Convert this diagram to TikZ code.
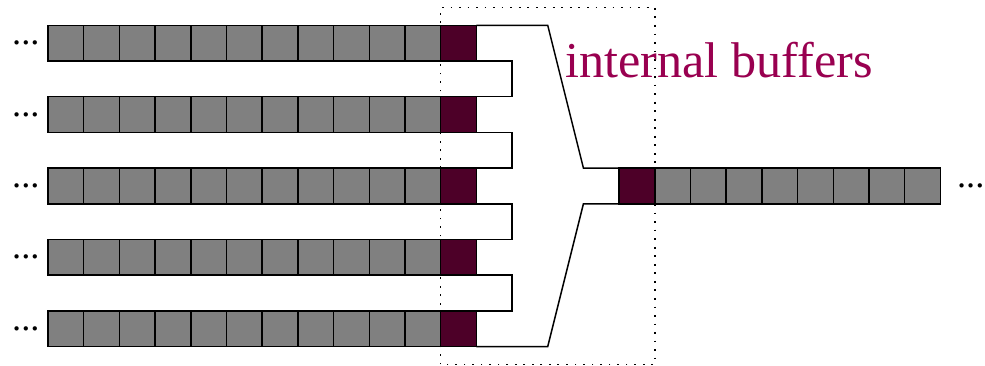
\documentclass[tikz,border=0pt]{standalone}
\usepackage{fontspec}
\setmainfont{Liberation Serif}
\usetikzlibrary{positioning}
\definecolor{bufmaroon}{RGB}{77,0,40}
\definecolor{labelred}{RGB}{153,0,80}

\begin{document}
\begin{tikzpicture}[
  line width=1.2pt,
  node distance=0cm,
  cell/.style={draw,fill=gray,minimum size=1cm,inner sep=0pt,outer sep=0pt},
  buf/.style={cell,fill=bufmaroon},
  dots/.style={font=\fontsize{29}{30}\selectfont,inner sep=0pt}
]
\useasboundingbox (-1.345,-5.04) rectangle (26.25,5.21);
% region of the internal buffers
\draw[dash pattern=on 1.4pt off 5.4pt] (11,-5) rectangle (17,5);
% input queues
\foreach \r/\y in {1/4,2/2,3/0,4/-2,5/-4} {
  \foreach \c in {1,...,11}
    \node[cell] (q\r c\c) at (\c-0.5,\y) {};
  \node[buf,right=of q\r c11] (q\r b) {};
  \node[dots] (q\r d) at (-0.62,\y) {...};
}
% output queue
\node[buf] (ob) at (16.5,0) {};
\foreach \c in {1,...,8}
  \node[cell] (o\c) at (16.5+\c,0) {};
\node[dots] (od) at (25.85,0) {...};
% merge outline
\draw (q1b.north east) -- (14,4.5) -- (15,0.5) -- (ob.north west);
\draw (ob.south west) -- (15,-0.5) -- (14,-4.5) -- (q5b.south east);
\foreach \r/\s in {1/2,2/3,3/4,4/5}
  \draw (q\r b.south east) -- ++(1,0) |- (q\s b.north east);
\node[font=\fontsize{40}{44}\selectfont,text=labelred,anchor=base west,inner sep=0pt] (lbl) at (14.48,3.05) {internal buffers};
\end{tikzpicture}
\end{document}
